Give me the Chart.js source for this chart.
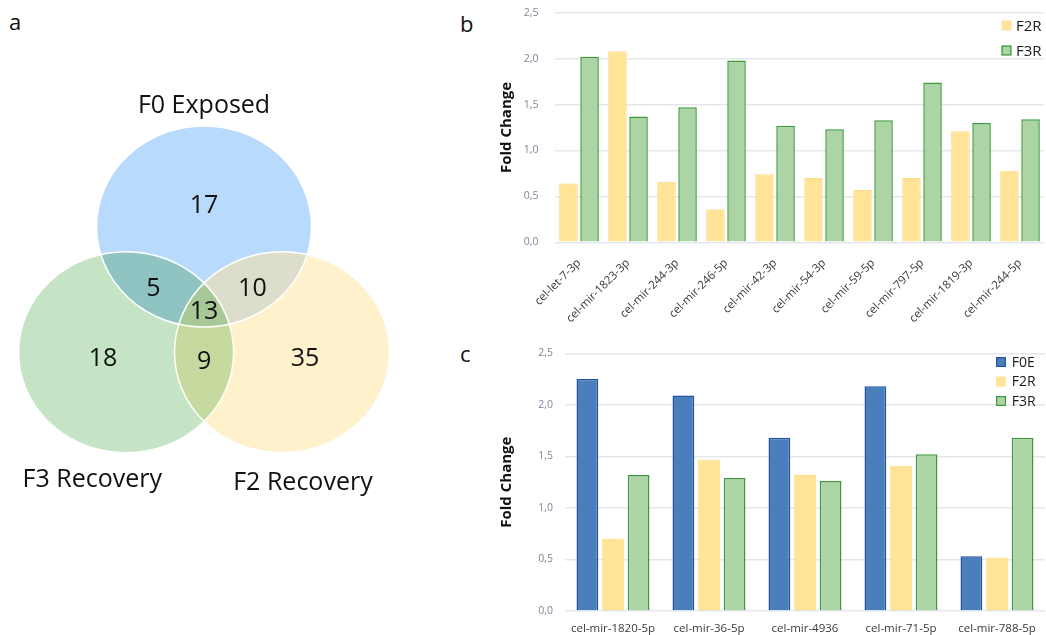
<!DOCTYPE html>
<html>
<head>
<meta charset="utf-8">
<script src="https://cdn.jsdelivr.net/npm/chart.js@4.4.1/dist/chart.umd.min.js"></script>
<style>
  html, body { margin: 0; padding: 0; background: #fff; }
  body { width: 1046px; height: 635px; position: relative; overflow: hidden; font-family: 'Open Sans', sans-serif; }
  canvas { position: absolute; }
  .tag { position: absolute; font-size: 22px; line-height: 1; color: #111; }
</style>
</head>
<body>
<div class="tag" style="left:9px;top:10px">a</div>
<div class="tag" style="left:460px;top:12px">b</div>
<div class="tag" style="left:460px;top:342px">c</div>
<canvas id="venn" width="440" height="560" style="left:0;top:0"></canvas>
<canvas id="chartB" width="556" height="325" style="left:490px;top:0"></canvas>
<canvas id="chartC" width="556" height="305" style="left:490px;top:330px"></canvas>
<script>
// Venn: number of miRNAs in each region
const setNames = ['F0 Exposed', 'F3 Recovery', 'F2 Recovery'];
// F0 only, F3 only, F2 only, F0+F3, F0+F2, F3+F2, all three
const regionCounts = [17, 18, 35, 5, 10, 9, 13];

// panel b
const labelsB = ['cel-let-7-3p', 'cel-mir-1823-3p', 'cel-mir-244-3p', 'cel-mir-246-5p', 'cel-mir-42-3p',
  'cel-mir-54-3p', 'cel-mir-59-5p', 'cel-mir-797-5p', 'cel-mir-1819-3p', 'cel-mir-244-5p'];
const f2rB = [0.64, 2.08, 0.66, 0.36, 0.74, 0.70, 0.57, 0.70, 1.21, 0.78];
const f3rB = [2.02, 1.37, 1.47, 1.98, 1.27, 1.23, 1.33, 1.74, 1.30, 1.34];

// panel c
const labelsC = ['cel-mir-1820-5p', 'cel-mir-36-5p', 'cel-mir-4936', 'cel-mir-71-5p', 'cel-mir-788-5p'];
const f0eC = [2.25, 2.09, 1.68, 2.18, 0.53];
const f2rC = [0.70, 1.47, 1.32, 1.41, 0.52];
const f3rC = [1.32, 1.29, 1.26, 1.52, 1.68];

const yTicks = ['0,0', '0,5', '1,0', '1,5', '2,0', '2,5'];

Chart.defaults.font.family = "'Open Sans', sans-serif";

// ---- Venn diagram, drawn on a scatter chart with hidden axes ----
const circleCenters = [{x: 0, y: 0.83}, {x: -0.725, y: -0.42}, {x: 0.725, y: -0.42}];
const circleRadius = 1;
const circleFill = ['#b8dafc', '#c5e3c5', '#fff1cc'];
const pairFill = {'0-1': '#8fc4c2', '0-2': '#dcdecb', '1-2': '#c6daa0'};
const tripleFill = '#a8c898';
const countPos = [[0, 1.04], [-0.94, -0.49], [0.94, -0.49], [-0.47, 0.21], [0.45, 0.21], [0, -0.52], [0, -0.02]];
const namePos = [[0, 2.03], [-1.04, -1.69], [0.92, -1.72]];

const vennPlugin = {
  id: 'vennRegions',
  beforeDatasetsDraw(chart) {
    const {ctx, scales: {x, y}} = chart;
    const pts = chart.getDatasetMeta(0).data;
    const paths = pts.map((pt, i) => {
      const rx = Math.abs(x.getPixelForValue(circleCenters[i].x + circleRadius) - pt.x);
      const ry = Math.abs(y.getPixelForValue(circleCenters[i].y + circleRadius) - pt.y);
      const p = new Path2D();
      p.ellipse(pt.x, pt.y, rx, ry, 0, 0, Math.PI * 2);
      return p;
    });
    ctx.save();
    paths.forEach((p, i) => { ctx.fillStyle = circleFill[i]; ctx.fill(p); });
    [[0, 1], [0, 2], [1, 2]].forEach(([a, b]) => {
      ctx.save();
      ctx.clip(paths[a]);
      ctx.fillStyle = pairFill[a + '-' + b];
      ctx.fill(paths[b]);
      ctx.restore();
    });
    ctx.save();
    ctx.clip(paths[0]);
    ctx.clip(paths[1]);
    ctx.fillStyle = tripleFill;
    ctx.fill(paths[2]);
    ctx.restore();
    ctx.strokeStyle = '#ffffff';
    ctx.lineWidth = 1.5;
    paths.forEach(p => ctx.stroke(p));
    ctx.restore();
  },
  afterDatasetsDraw(chart) {
    const {ctx, scales: {x, y}} = chart;
    ctx.save();
    ctx.fillStyle = '#111';
    ctx.textAlign = 'center';
    ctx.textBaseline = 'middle';
    ctx.font = "25px 'Open Sans'";
    regionCounts.forEach((n, i) => {
      ctx.fillText(String(n), x.getPixelForValue(countPos[i][0]), y.getPixelForValue(countPos[i][1]));
    });
    setNames.forEach((s, i) => {
      ctx.fillText(s, x.getPixelForValue(namePos[i][0]), y.getPixelForValue(namePos[i][1]));
    });
    ctx.restore();
  }
};

new Chart(document.getElementById('venn'), {
  type: 'scatter',
  data: { datasets: [{ data: circleCenters, pointRadius: 0, pointHoverRadius: 0 }] },
  options: {
    responsive: false,
    animation: false,
    layout: { padding: 0 },
    scales: {
      x: { display: false, min: -1.898, max: 2.195 },
      y: { display: false, min: -2.488, max: 3.085 }
    },
    plugins: { legend: { display: false }, tooltip: { enabled: false } }
  },
  plugins: [vennPlugin]
});

// ---- bar charts ----
const series = {
  F0E: { backgroundColor: '#4a7fba', borderColor: '#2052a6', borderWidth: 1.5 },
  F2R: { backgroundColor: '#ffe497', borderColor: '#fedc84', borderWidth: 1 },
  F3R: { backgroundColor: '#acd4a5', borderColor: '#3c9a3c', borderWidth: 1.5 }
};

// small legend in the top right corner of the plot area
const cornerLegend = {
  id: 'cornerLegend',
  afterDraw(chart, args, opts) {
    const {ctx, chartArea} = chart;
    ctx.save();
    ctx.font = opts.fontSize + "px 'Open Sans'";
    ctx.textBaseline = 'middle';
    ctx.textAlign = 'left';
    chart.data.datasets.forEach((ds, i) => {
      const cy = chartArea.top + opts.top + i * opts.rowGap;
      const bx = chartArea.right - opts.boxOffset;
      ctx.fillStyle = ds.backgroundColor;
      ctx.fillRect(bx, cy - 5, 10, 10);
      if (ds.borderWidth > 1) {
        ctx.strokeStyle = ds.borderColor;
        ctx.lineWidth = 1.2;
        ctx.strokeRect(bx + 0.6, cy - 4.4, 8.8, 8.8);
      }
      ctx.fillStyle = '#1a1a1a';
      ctx.fillText(ds.label, chartArea.right - opts.textOffset, cy + 1);
    });
    ctx.restore();
  }
};

function barChart(id, labels, sets, cfg) {
  return new Chart(document.getElementById(id), {
    type: 'bar',
    data: {
      labels: labels,
      datasets: sets.map(([name, data]) => ({
        label: name,
        data: data,
        ...series[name],
        categoryPercentage: cfg.catPct,
        barPercentage: cfg.barPct
      }))
    },
    options: {
      responsive: false,
      animation: false,
      layout: { padding: cfg.padding },
      scales: {
        x: {
          grid: { display: false },
          border: { display: false },
          ticks: {
            autoSkip: false,
            minRotation: cfg.rotation,
            maxRotation: cfg.rotation,
            padding: cfg.xPad,
            color: '#3a3a3a',
            font: { size: cfg.xFont }
          },
          afterFit(scale) { scale.height = cfg.xHeight; }
        },
        y: {
          min: 0,
          max: 2.5,
          border: { display: false },
          grid: { color: '#e4e7ed', lineWidth: 1.5, drawTicks: false },
          ticks: {
            stepSize: 0.5,
            padding: cfg.yPad,
            color: '#7d8799',
            font: { size: 10.5 },
            callback: (v, i) => yTicks[i]
          },
          title: {
            display: true,
            text: 'Fold Change',
            color: '#111',
            font: { size: 15, weight: 'bold' },
            padding: { top: 7.5, bottom: 0 }
          },
          afterFit(scale) {
            scale.width = cfg.yWidth;
            // the plot top comes from layout.padding alone
            scale.paddingTop = 0;
            scale.paddingBottom = 0;
          }
        }
      },
      plugins: {
        legend: { display: false },
        tooltip: { enabled: false },
        cornerLegend: cfg.legend
      }
    },
    plugins: [cornerLegend]
  });
}

barChart('chartB', labelsB, [['F2R', f2rB], ['F3R', f3rB]], {
  catPct: 0.86, barPct: 0.88,
  padding: { left: 0, top: 12.7, right: 1.5, bottom: 0 },
  rotation: 45, xPad: 6, xFont: 11.5, xHeight: 82.7, yPad: 16, yWidth: 64.5,
  legend: { fontSize: 15, top: 12.8, rowGap: 25, boxOffset: 43, textOffset: 28.5 }
});

barChart('chartC', labelsC, [['F0E', f0eC], ['F2R', f2rC], ['F3R', f3rC]], {
  catPct: 0.8, barPct: 0.85,
  padding: { left: 0, top: 23.3, right: 1, bottom: 0 },
  rotation: 0, xPad: 3, xFont: 11.5, xHeight: 24, yPad: 12, yWidth: 75,
  legend: { fontSize: 14, top: 8.7, rowGap: 19.5, boxOffset: 49, textOffset: 33.3 }
});
</script>
</body>
</html>
